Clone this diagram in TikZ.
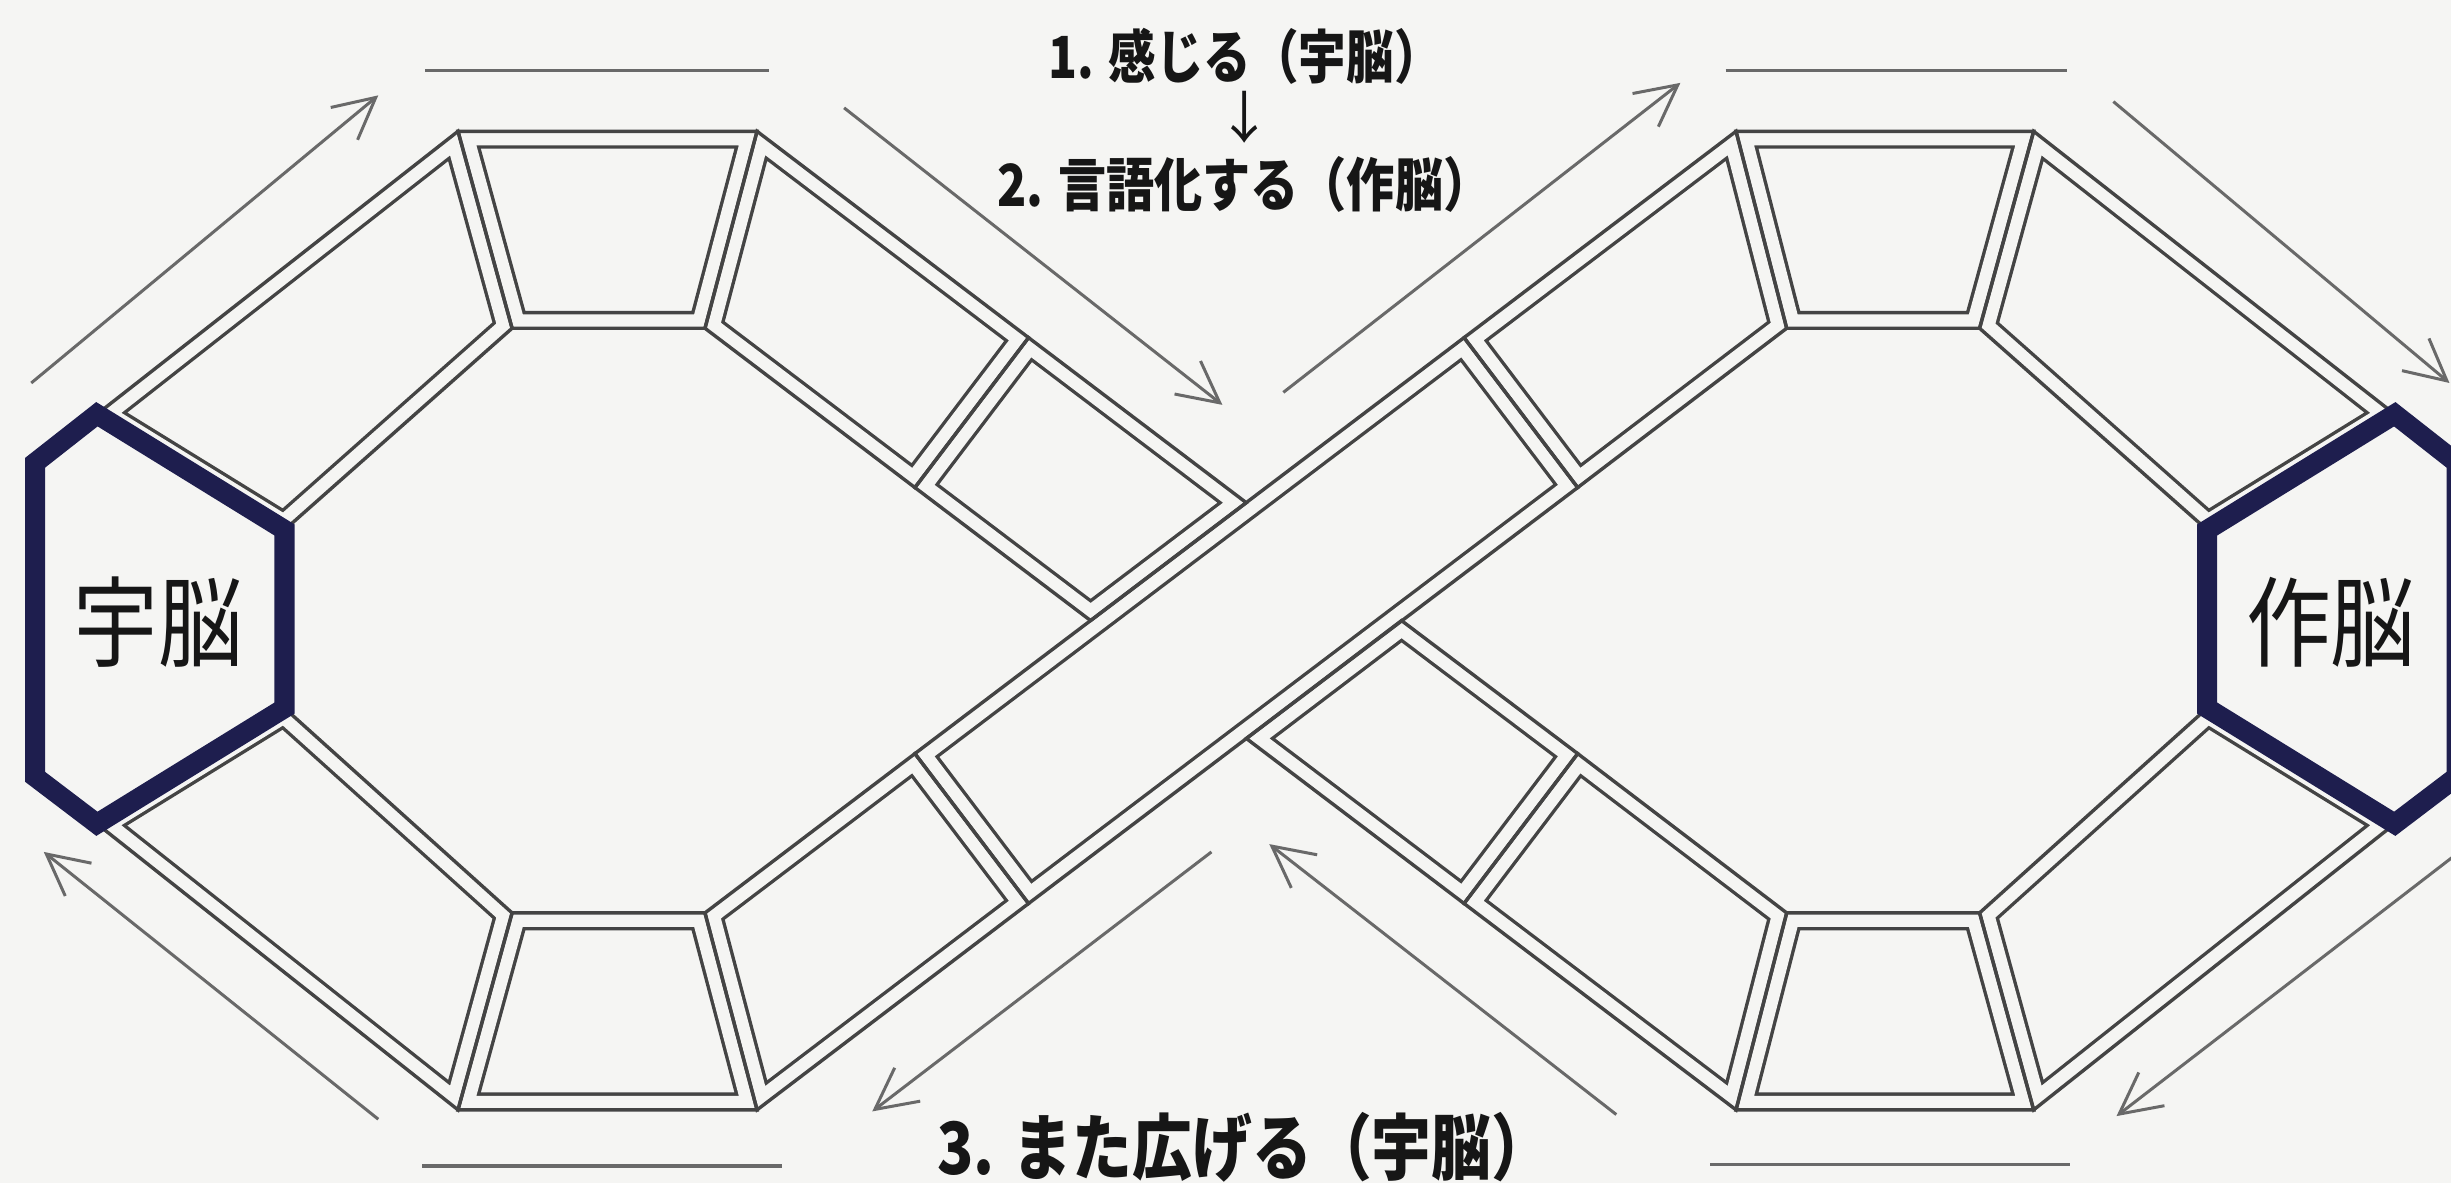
\documentclass[tikz,border=0pt]{standalone}
\usepackage{fontspec}
\newfontfamily\jp{Noto Sans CJK JP}
\usetikzlibrary{arrows.meta}
\definecolor{bg}{RGB}{245,245,243}
\definecolor{ln}{RGB}{68,68,68}
\definecolor{arr}{RGB}{105,105,105}
\definecolor{navy}{RGB}{30,30,78}
\definecolor{txt}{RGB}{22,22,22}
\def\insetcell#1{\begin{scope}\clip #1 -- cycle; \draw[insetline] #1 -- cycle;\end{scope}}
\def\framecell#1{\draw[frameline] #1 -- cycle;}
\def\tilelist{%
  \tileop{(h1a)--(t1a)--(t1d)--(h1b)}%
  \tileop{(t1a)--(t1b)--(t1c)--(t1d)}%
  \tileop{(t1b)--(s1)--(s2)--(t1c)}%
  \tileop{(s1)--(ctop)--(cleft)--(s2)}%
  \tileop{(h1d)--(t2a)--(t2d)--(h1c)}%
  \tileop{(t2a)--(t2b)--(t2c)--(t2d)}%
  \tileop{(t2c)--(n1)--(n2)--(t2b)}%
  \tileop{(n1)--(n3)--(n4)--(n2)}%
  \tileop{(n3)--(t3a)--(t3d)--(n4)}%
  \tileop{(t3a)--(t3b)--(t3c)--(t3d)}%
  \tileop{(t3b)--(h2a)--(h2b)--(t3c)}%
  \tileop{(t4b)--(h2d)--(h2c)--(t4c)}%
  \tileop{(t4a)--(t4b)--(t4c)--(t4d)}%
  \tileop{(t4a)--(t4d)--(s3)--(s4)}%
  \tileop{(s4)--(s3)--(cright)--(cbot)}%
}
\begin{document}
\begin{tikzpicture}[x=0.015631cm,y=-0.015631cm,
  frameline/.style={draw=ln,line width=0.034cm,line join=miter},
  insetline/.style={draw=ln,line width=0.034cm,double=bg,double distance=0.28cm,line join=miter},
  flow/.style={draw=arr,line width=0.03cm,-{Straight Barb[length=0.41cm,width=0.42cm]}},
  bar/.style={draw=arr,line width=0.035cm},
  hexa/.style={draw=navy,line width=0.2cm,line join=miter},
  lab/.style={text=txt,inner sep=0pt},
]
\useasboundingbox (0,0) rectangle (1568,757);
\clip (0,0) rectangle (1568,757);
\fill[bg] (0,0) rectangle (1568,757);

% hexagon vertices
\coordinate (h1a) at (62,265);
\coordinate (h1b) at (182,339);
\coordinate (h1c) at (182,453);
\coordinate (h1d) at (62,527);
\coordinate (h1e) at (22.5,497);
\coordinate (h1f) at (22.5,296);
\coordinate (h2a) at (1532,265);
\coordinate (h2b) at (1412,339);
\coordinate (h2c) at (1412,453);
\coordinate (h2d) at (1532,527);
\coordinate (h2e) at (1571.5,497);
\coordinate (h2f) at (1571.5,296);
% trapezoids
\coordinate (t1a) at (293,84);
\coordinate (t1b) at (484.3,84);
\coordinate (t1c) at (451,210);
\coordinate (t1d) at (327.6,210);
\coordinate (t2a) at (293,710);
\coordinate (t2b) at (484.3,710);
\coordinate (t2c) at (451,584);
\coordinate (t2d) at (327.6,584);
\coordinate (t3a) at (1110.6,84);
\coordinate (t3b) at (1301,84);
\coordinate (t3c) at (1266.4,210);
\coordinate (t3d) at (1143,210);
\coordinate (t4a) at (1110.6,710);
\coordinate (t4b) at (1301,710);
\coordinate (t4c) at (1266.4,584);
\coordinate (t4d) at (1143,584);
% dividers and crossing
\coordinate (s1) at (658,216);
\coordinate (s2) at (585.3,311.9);
\coordinate (s3) at (1009.3,482.1);
\coordinate (s4) at (936.6,578);
\coordinate (n1) at (585.3,482.1);
\coordinate (n2) at (658,578);
\coordinate (n3) at (936.6,216);
\coordinate (n4) at (1009.3,311.9);
\coordinate (ctop) at (797.3,321.6);
\coordinate (cleft) at (697.7,397);
\coordinate (cright) at (896.6,397);
\coordinate (cbot) at (797.3,472.4);

\let\tileop\insetcell \tilelist
\let\tileop\framecell \tilelist

\draw[hexa] (h1a)--(h1b)--(h1c)--(h1d)--(h1e)--(h1f)--cycle;
\draw[hexa] (h2a)--(h2b)--(h2c)--(h2d)--(h2e)--(h2f)--cycle;

% flow arrows and bars
\coordinate (a1s) at (20,245);   \coordinate (a1e) at (242,61);
\coordinate (b1s) at (272,45);   \coordinate (b1e) at (492,45);
\coordinate (a2s) at (540,69);   \coordinate (a2e) at (782,259);
\coordinate (a3s) at (821,251);  \coordinate (a3e) at (1075,53);
\coordinate (b2s) at (1104,45);  \coordinate (b2e) at (1322,45);
\coordinate (a4s) at (1352,65);  \coordinate (a4e) at (1567,245);
\coordinate (a5s) at (1572,546); \coordinate (a5e) at (1354,714);
\coordinate (b3s) at (1094,745); \coordinate (b3e) at (1324,745);
\coordinate (a6s) at (1034,713); \coordinate (a6e) at (812,540);
\coordinate (a7s) at (775,545);  \coordinate (a7e) at (558,711);
\coordinate (b4s) at (270,746);  \coordinate (b4e) at (500,746);
\coordinate (a8s) at (242,716);  \coordinate (a8e) at (28,545);
\draw[flow] (a1s) -- (a1e);
\draw[bar] (b1s) -- (b1e);
\draw[flow] (a2s) -- (a2e);
\draw[flow] (a3s) -- (a3e);
\draw[bar] (b2s) -- (b2e);
\draw[flow] (a4s) -- (a4e);
\draw[flow] (a5s) -- (a5e);
\draw[bar] (b3s) -- (b3e);
\draw[flow] (a6s) -- (a6e);
\draw[flow] (a7s) -- (a7e);
\draw[bar] (b4s) -- (b4e);
\draw[flow] (a8s) -- (a8e);

% labels
\node[lab,font=\jp\fontsize{28}{32}\selectfont,xscale=0.86] (uno) at (101.5,398) {宇脳};
\node[lab,font=\jp\fontsize{28}{32}\selectfont,xscale=0.86] (sakuno) at (1491,398) {作脳};
\node[lab,font=\jp\bfseries\fontsize{16.5}{20}\selectfont,xscale=0.82] (step1) at (796.5,36) {1. 感じる（宇脳）};
\node[lab,font=\jp\fontsize{16}{20}\selectfont] (down) at (796.5,75) {↓};
\node[lab,font=\jp\bfseries\fontsize{16.5}{20}\selectfont,xscale=0.83] (step2) at (796,118) {2. 言語化する（作脳）};
\node[lab,font=\jp\bfseries\fontsize{20.5}{24}\selectfont,xscale=0.83] (step3) at (796,734) {3. また広げる（宇脳）};
\end{tikzpicture}
\end{document}
